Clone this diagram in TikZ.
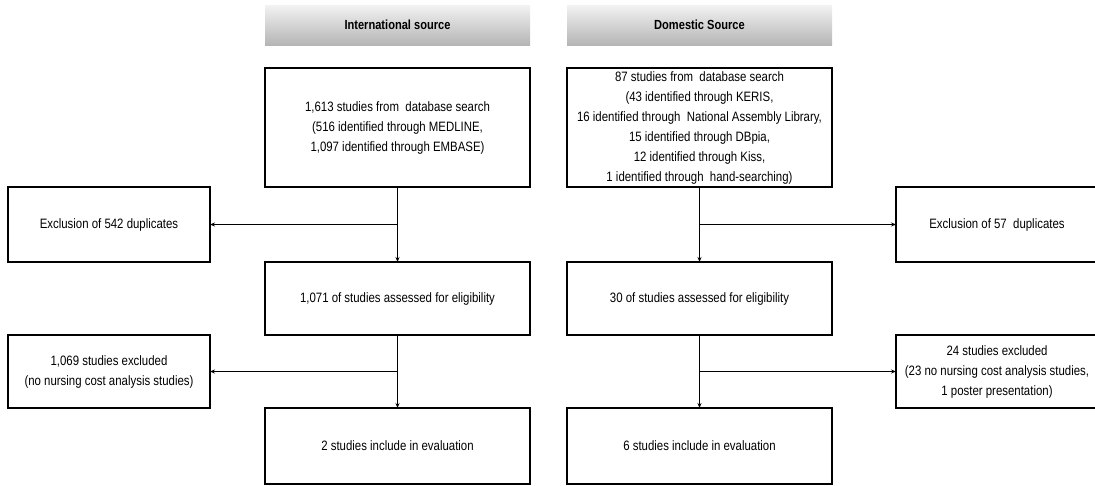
\documentclass[tikz,border=0pt]{standalone}
\usepackage{fontspec}
\setmainfont{Liberation Sans}[FakeStretch=0.84]
\usetikzlibrary{arrows.meta}
\begin{document}
\begin{tikzpicture}[x=1pt,y=-1pt,
  every node/.style={font=\fontsize{13.6}{20}\selectfont, align=center, inner sep=0pt, outer sep=0pt},
  hdr/.style={minimum width=265pt, minimum height=40pt, top color=gray!10, bottom color=gray!58, font=\fontsize{13.2}{20}\selectfont\bfseries},
  mainbox/.style={draw, line width=1.6pt, minimum width=265pt},
  sidebox/.style={draw, line width=1.6pt, minimum width=202pt},
  flow/.style={line width=1pt, -{Stealth[length=5pt,width=4pt]}}]
\useasboundingbox (0,0) rectangle (1095,485);
\node[hdr] (hL) at (397.5,25) {International source};
\node[hdr] (hR) at (699.5,25) {Domestic Source};
\node[mainbox, minimum height=119pt] (b1L) at (397.5,127.5) {1,613 studies from\ \ database search\\(516 identified through MEDLINE,\\1,097 identified through EMBASE)};
\node[mainbox, minimum height=119pt] (b1R) at (699.5,127.5) {87 studies from\ \ database search\\(43 identified through KERIS,\\16 identified through\ \ National Assembly Library,\\15 identified through DBpia,\\12 identified through Kiss,\\1 identified through\ \ hand-searching)};
\node[sidebox, minimum height=75pt] (e1L) at (109,224.5) {Exclusion of 542 duplicates};
\node[sidebox, minimum height=75pt] (e1R) at (997,224.5) {Exclusion of 57\ \ duplicates};
\node[mainbox, minimum height=73pt] (b2L) at (397.5,298.5) {1,071 of studies assessed for eligibility};
\node[mainbox, minimum height=73pt] (b2R) at (699.5,298.5) {30 of studies assessed for eligibility};
\node[sidebox, minimum height=73pt] (e2L) at (109,371.5) {1,069 studies excluded\\(no nursing cost analysis studies)};
\node[sidebox, minimum height=73pt] (e2R) at (997,371.5) {24 studies excluded\\(23 no nursing cost analysis studies,\\1 poster presentation)};
\node[mainbox, minimum height=76pt] (b3L) at (397.5,446) {2 studies include in evaluation};
\node[mainbox, minimum height=76pt] (b3R) at (699.5,446) {6 studies include in evaluation};
\coordinate (jL1) at (b1L.south |- e1L.east);
\coordinate (jR1) at (b1R.south |- e1R.west);
\coordinate (jL2) at (b2L.south |- e2L.east);
\coordinate (jR2) at (b2R.south |- e2R.west);
\draw[flow] (b1L.south) -- (b2L.north);
\draw[flow] (b1R.south) -- (b2R.north);
\draw[flow] (b2L.south) -- (b3L.north);
\draw[flow] (b2R.south) -- (b3R.north);
\draw[flow] (jL1) -- (e1L.east);
\draw[flow] (jR1) -- (e1R.west);
\draw[flow] (jL2) -- (e2L.east);
\draw[flow] (jR2) -- (e2R.west);
\end{tikzpicture}
\end{document}
